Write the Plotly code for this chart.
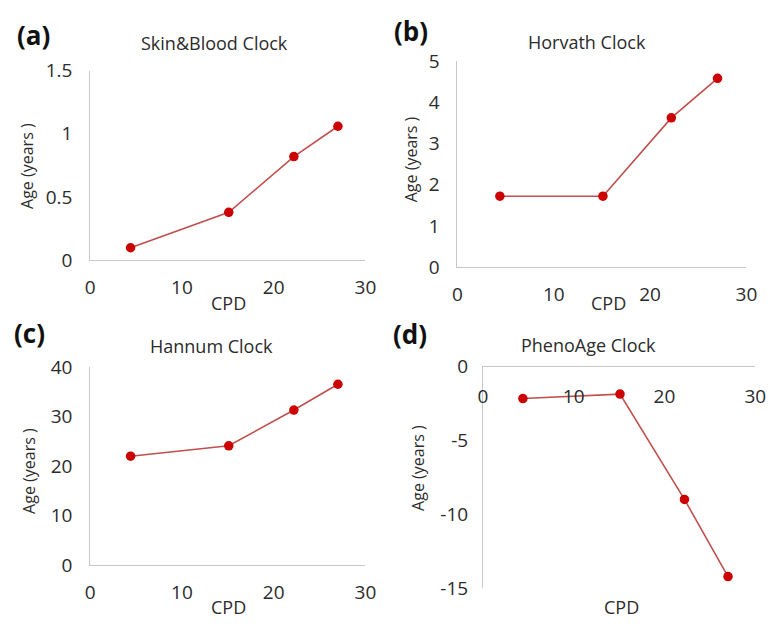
import plotly.graph_objects as go

cpd = [4.4, 15.1, 22.2, 27.0]
skin_blood = [0.10, 0.38, 0.82, 1.06]
horvath = [1.72, 1.72, 3.62, 4.58]
hannum = [22.0, 24.1, 31.3, 36.5]
phenoage = [-2.2, -1.9, -9.0, -14.2]

panel_titles = ["Skin&Blood Clock", "Horvath Clock", "Hannum Clock", "PhenoAge Clock"]
panel_letters = ["(a)", "(b)", "(c)", "(d)"]
y_ranges = [[0, 1.5], [0, 5], [0, 40], [-15, 0]]
y_tickvals = [[0, 0.5, 1, 1.5], [0, 1, 2, 3, 4, 5], [0, 10, 20, 30, 40], [0, -5, -10, -15]]
y_ticktext = [["0", "0.5", "1", "1.5"], ["0", "1", "2", "3", "4", "5"],
              ["0", "10", "20", "30", "40"], ["0", "-5", "-10", "-15"]]
x_range = [0, 30]
x_tickvals = [0, 10, 20, 30]
x_ticktext = ["0", "10", "20", "30"]

W, H = 778, 634
FONT = "'Open Sans', Lato, sans-serif"
TXT = "#2b2b2b"
AXC = "#c8c8c8"
LINE = "#c0504d"
MARK = "#cc0000"

# plot areas in pixels: (left, right, top, bottom)
boxes = [(87, 368, 60, 258), (462, 757, 50, 265), (87, 368, 369, 576), (488, 766, 368, 600)]

series = [skin_blood, horvath, hannum, phenoage]

fig = go.Figure()
layout = dict(width=W, height=H, margin=dict(l=0, r=0, t=0, b=0),
              paper_bgcolor="white", plot_bgcolor="white", showlegend=False,
              font=dict(family=FONT, color=TXT))

def px_x(v):
    return v / W

def px_y(v):
    return 1 - v / H

annotations = []
for i in range(4):
    n = "" if i == 0 else str(i + 1)
    l, r, t, b = boxes[i]
    fig.add_trace(go.Scatter(x=cpd, y=series[i], mode="lines+markers",
                             line=dict(color=LINE, width=1.6),
                             marker=dict(color=MARK, size=9.5, symbol="circle"),
                             xaxis="x" + n, yaxis="y" + n, cliponaxis=False))
    xa = dict(domain=[px_x(l), px_x(r)], range=x_range,
              tickvals=x_tickvals, ticktext=x_ticktext,
              showgrid=False, zeroline=False, showline=True, linecolor=AXC, linewidth=1,
              anchor="y" + n, tickfont=dict(size=19, color=TXT, family=FONT),
              ticks="outside", ticklen=10, tickcolor="rgba(0,0,0,0)", fixedrange=True)
    ya = dict(domain=[px_y(b), px_y(t)], range=y_ranges[i],
              tickvals=y_tickvals[i], ticktext=y_ticktext[i],
              showgrid=False, zeroline=False, showline=True, linecolor=AXC, linewidth=1,
              anchor="x" + n, tickfont=dict(size=19, color=TXT, family=FONT),
              ticks="outside", ticklen=13, tickcolor="rgba(0,0,0,0)", fixedrange=True)
    if i == 3:
        xa.update(anchor="free", position=px_y(t), side="bottom", ticklen=13)
        ya.update(ticklen=10)
    layout["xaxis" + n] = xa
    layout["yaxis" + n] = ya

title_pos = [(214, 31), (594, 30), (211, 347), (596, 346)]
letter_pos = [(29, 23), (415, 19), (25, 334), (414, 335)]
cpd_pos = [(228, 302), (616, 302), (228, 619), (629, 619)]
age_pos = [(23, 160), (414, 152), (25, 477), (421, 474)]

for i in range(4):
    annotations.append(dict(text=panel_titles[i], x=px_x(title_pos[i][0]), y=px_y(title_pos[i][1]),
                            xref="paper", yref="paper", showarrow=False,
                            xanchor="center", yanchor="middle",
                            font=dict(size=18, color=TXT, family=FONT)))
    annotations.append(dict(text="<b>" + panel_letters[i] + "</b>", x=px_x(letter_pos[i][0]),
                            y=px_y(letter_pos[i][1]), xref="paper", yref="paper", showarrow=False,
                            xanchor="center", yanchor="middle",
                            font=dict(size=26, color="#111111", family=FONT)))
    annotations.append(dict(text="CPD", x=px_x(cpd_pos[i][0]), y=px_y(cpd_pos[i][1]),
                            xref="paper", yref="paper", showarrow=False,
                            xanchor="center", yanchor="middle",
                            font=dict(size=18, color=TXT, family=FONT)))
    annotations.append(dict(text="Age (years )", x=px_x(age_pos[i][0]), y=px_y(age_pos[i][1]),
                            xref="paper", yref="paper", showarrow=False, textangle=-90,
                            xanchor="center", yanchor="middle",
                            font=dict(size=16, color=TXT, family=FONT)))

layout["annotations"] = annotations
fig.update_layout(**layout)
fig.write_html("out.html")
